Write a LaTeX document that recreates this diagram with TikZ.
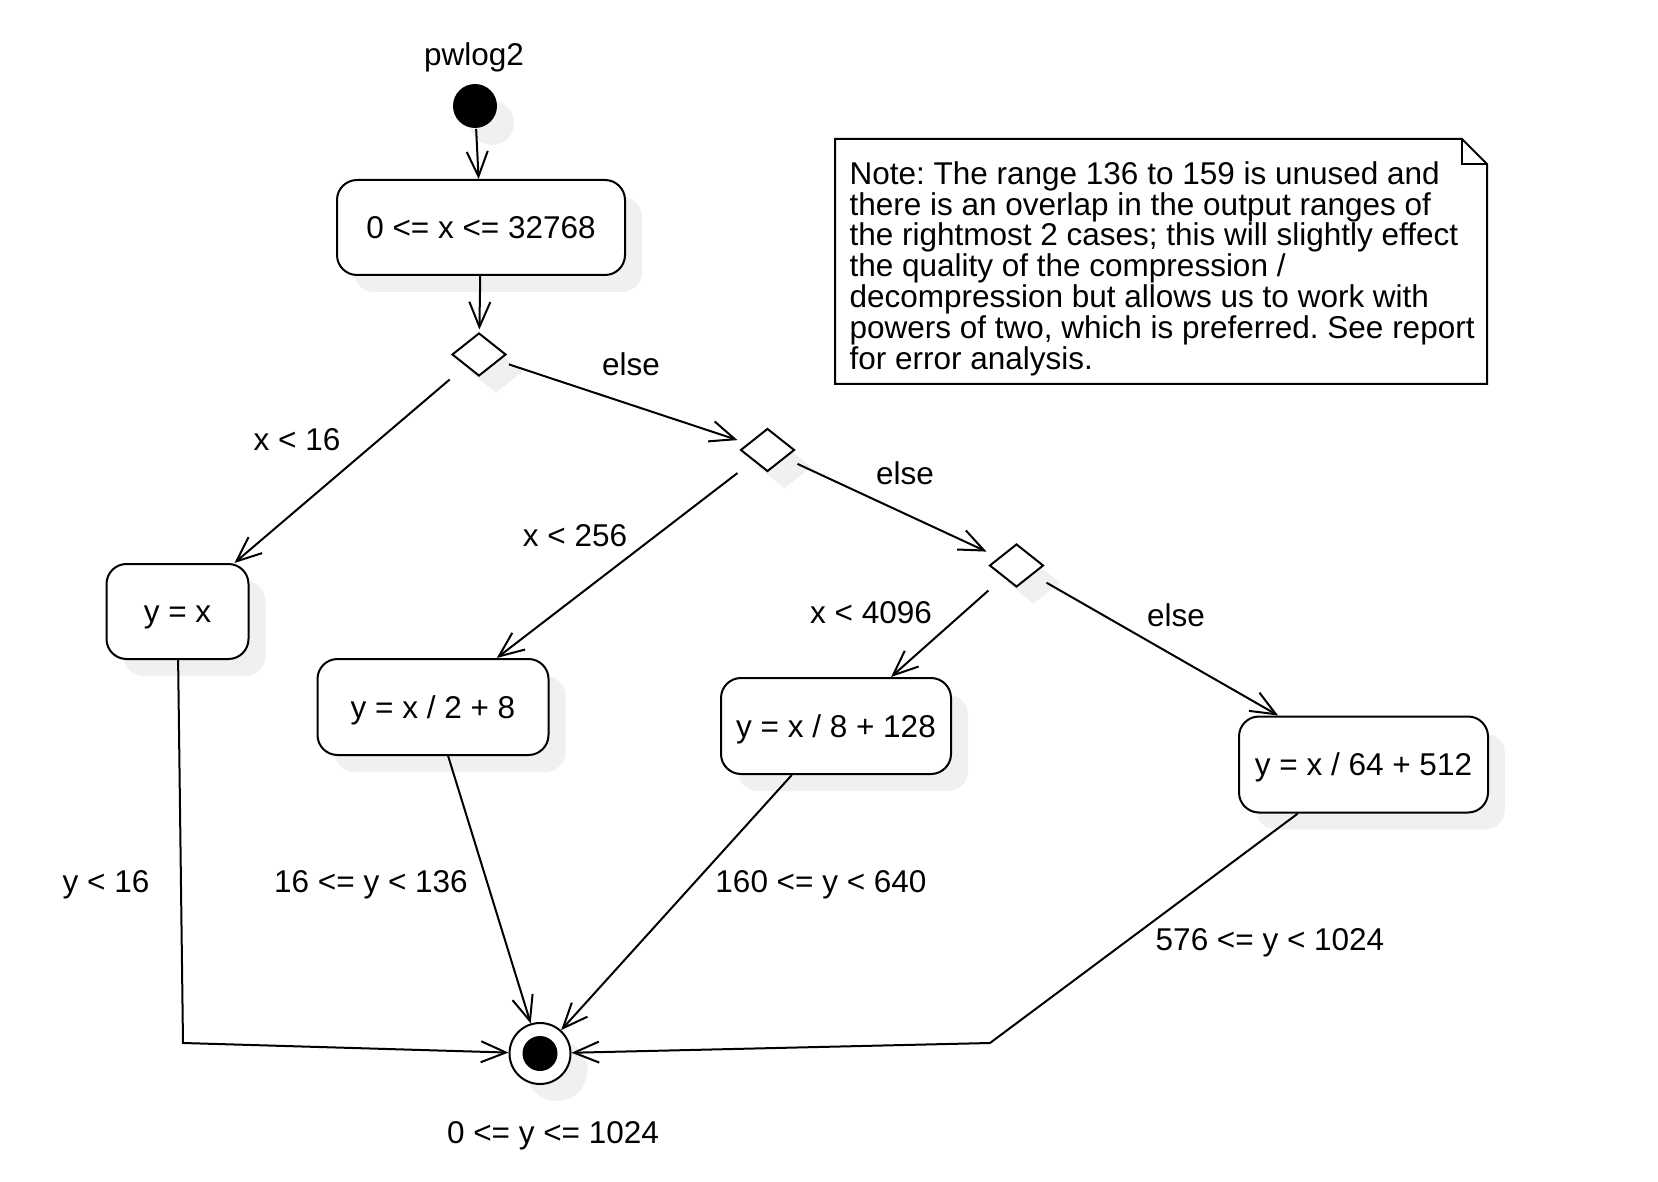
\documentclass[tikz,border=0pt]{standalone}
\usepackage{fontspec}
\setmainfont{Liberation Sans}
\usetikzlibrary{arrows.meta,shapes.geometric,shadows}
\definecolor{shadowgray}{HTML}{F0F0F0}
\frenchspacing
\begin{document}
\begin{tikzpicture}[x=1pt,y=-1pt,
  font=\fontsize{31.5pt}{30.8pt}\selectfont\frenchspacing,
  line width=2pt,
  shadowed/.style={general shadow={fill=shadowgray,shadow xshift=17pt,shadow yshift=-17pt}},
  actbox/.style={draw,rounded corners=20pt,fill=white,inner sep=0pt,text height=22pt,text depth=0pt,shadowed},
  decvis/.style={draw,diamond,fill=white,inner sep=0pt,minimum width=54pt,minimum height=43pt,shadowed},
  decport/.style={rectangle,inner sep=0pt,minimum width=58pt,minimum height=48pt},
  lbl/.style={inner sep=0pt,text height=22pt,text depth=0pt},
  arr/.style={-{Straight Barb[length=25pt,width=21pt]}},
]
\fill[white] (0,0) rectangle (1658,1182);

% initial node
\node[lbl] (title) at (474,55) {pwlog2};
\node[circle,fill=black,minimum size=44pt,inner sep=0pt,shadowed] (start) at (475,106) {};

% actions
\node[actbox,minimum width=288pt,minimum height=95pt] (b1) at (481,227.5) {0 <= x <= 32768};
\node[actbox,minimum width=142pt,minimum height=95pt] (yx) at (177.5,611.5) {y = x};
\node[actbox,minimum width=231pt,minimum height=96pt] (b2) at (433,707) {y = x / 2 + 8};
\node[actbox,minimum width=230pt,minimum height=96pt] (b3) at (836,726) {y = x / 8 + 128};
\node[actbox,minimum width=249pt,minimum height=96pt] (b4) at (1363.5,764.5) {y = x / 64 + 512};

% decisions
\node[decvis] (d1v) at (479,354.5) {};
\node[decport] (d1) at (479,354.5) {};
\node[decvis] (d2v) at (767.5,450) {};
\node[decport] (d2) at (767.5,450) {};
\node[decvis] (d3v) at (1016.5,565.5) {};
\node[decport] (d3) at (1016.5,565.5) {};

% final node
\node[circle,draw,fill=white,minimum size=61pt,inner sep=0pt,shadowed] (end) at (540,1053.5) {};
\node[circle,fill=black,minimum size=35pt,inner sep=0pt] (endin) at (end.center) {};
\node[lbl] (endlbl) at (553,1132) {0 <= y <= 1024};

% note
\node[rectangle,inner sep=0pt,minimum width=650pt,minimum height=243pt] (note) at (1161,261.5) {};
\draw[line join=miter] (note.north west) -- ([xshift=-25pt]note.north east) -- ([yshift=-25pt]note.north east) -- (note.south east) -- (note.south west) -- cycle;
\draw[line join=miter] ([xshift=-25pt]note.north east) -- ([xshift=-25pt,yshift=-25pt]note.north east) -- ([yshift=-25pt]note.north east);
\node[anchor=west,align=left,inner sep=0pt] (notetext) at ([xshift=13.6pt,yshift=-7pt]note.west) {Note: The range 136 to 159 is unused and\\there is an overlap in the output ranges of\\the rightmost 2 cases; this will slightly effect\\the quality of the compression /\\decompression but allows us to work with\\powers of two, which is preferred. See report\\for error analysis.};

% bend points
\coordinate (c1) at (183,1043);
\coordinate (c2) at (990,1043);

% connectors
\draw[arr] (start) -- (b1);
\draw[arr] (b1) -- (d1);
\draw[arr] (d1) -- (yx);
\draw[arr] (d1) -- (d2);
\draw[arr] (d2) -- (b2);
\draw[arr] (d2) -- (d3);
\draw[arr] (d3) -- (b3);
\draw[arr] (d3) -- (b4);
\draw[arr] (yx) -- (c1) -- (end);
\draw[arr] (b2) -- (end);
\draw[arr] (b3) -- (end);
\draw[arr] (b4) -- (c2) -- (end);

% labels
\node[lbl] (l1) at (297,439) {x < 16};
\node[lbl] (l2) at (631,365) {else};
\node[lbl] (l3) at (575,535) {x < 256};
\node[lbl] (l4) at (905,473) {else};
\node[lbl] (l5) at (871,612) {x < 4096};
\node[lbl] (l6) at (1176,615) {else};
\node[lbl] (l7) at (106,881) {y < 16};
\node[lbl] (l8) at (371,881) {16 <= y < 136};
\node[lbl] (l9) at (821,881) {160 <= y < 640};
\node[lbl] (l10) at (1270,939) {576 <= y < 1024};
\end{tikzpicture}
\end{document}
